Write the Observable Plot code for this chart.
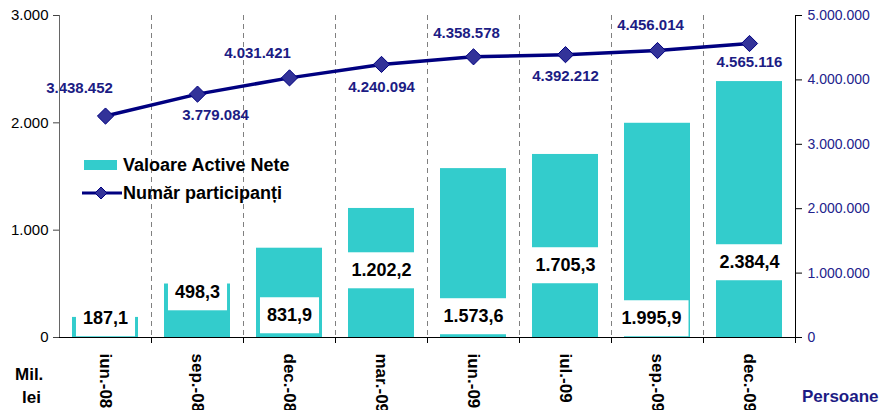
<!DOCTYPE html>
<html>
<head>
<meta charset="utf-8">
<script src="https://cdn.jsdelivr.net/npm/d3@7"></script>
<script src="https://cdn.jsdelivr.net/npm/@observablehq/plot@0.6"></script>
<style>
  html, body { margin: 0; padding: 0; background: #fff; }
  #wrap { position: relative; width: 881px; height: 410px; font-family: "Liberation Sans", Arial, sans-serif; }
  .ov { position: absolute; font-weight: bold; white-space: nowrap; line-height: 20px; }
</style>
</head>
<body>
<div id="wrap"></div>
<script>
// ---- data ----
const categories = ["iun.-08", "sep.-08", "dec.-08", "mar.-09", "iun.-09", "iul.-09", "sep.-09", "dec.-09"];
const netAssets = [187.1, 498.3, 831.9, 1202.2, 1573.6, 1705.3, 1995.9, 2384.4]; // Mil. lei
const participants = [3438452, 3779084, 4031421, 4240094, 4358578, 4392212, 4456014, 4565116]; // Persoane
const leftTicks = [0, 1000, 2000, 3000];
const rightTicks = [0, 1000000, 2000000, 3000000, 4000000, 5000000];
const seriesNames = ["Valoare Active Nete", "Număr participanți"];

// ---- layout (label placement) ----
const barLabelAt = [177, 419, 205, 624, 196, 671, 177, 699];
const barLabelDx = [0, 0, 0, 0, 0, 0, -6, 0];
const lineLabelDx = [-26, 18, -32, 0, -7, 0, -7, 0];
const lineLabelDy = [-28, 21, -25, 23, -24, 22, -25, 19];

const W = 881, H = 410, mL = 59, mR = 86, mT = 15, mB = 73;
const bw = (W - mL - mR) / categories.length;
const k = 3000 / 5000000;
const yPerPx = 3000 / (H - mT - mB);

const ro = d3.formatLocale({decimal: ",", thousands: ".", grouping: [3], currency: ["", ""]});
const fmtInt = ro.format(",d");
const fmt1 = ro.format(",.1f");

const rows = categories.map((c, i) => ({cat: c, nav: netAssets[i], part: participants[i], i}));

const NAVY = "#000080";
const LBL = "#1c1c84";
const TEAL = "#33CCCC";

const chart = Plot.plot({
  width: W, height: H,
  marginLeft: mL, marginRight: mR, marginTop: mT, marginBottom: mB,
  style: {fontFamily: "'Liberation Sans', Arial, sans-serif", background: "white", overflow: "visible"},
  x: {domain: categories, padding: 0},
  y: {domain: [0, 3000]},
  marks: [
    Plot.ruleX(categories.slice(0, -1), {x: d => d, dx: bw / 2, stroke: "#808080", strokeDasharray: "5,4"}),
    Plot.barY(rows, {x: "cat", y: "nav", fill: TEAL, insetLeft: 13, insetRight: 13}),
    ...rows.map((d, i) => Plot.text([d], {
      x: "cat", y: () => barLabelAt[i], text: r => fmt1(r.nav), dx: barLabelDx[i],
      fontSize: 18, fontWeight: "bold", fill: "black"
    })),
    Plot.line(rows, {x: "cat", y: d => d.part * k, stroke: NAVY, strokeWidth: 3.5}),
    Plot.dot(rows, {x: "cat", y: d => d.part * k, symbol: "diamond2", r: 7.3, fill: "#333399", stroke: NAVY, strokeWidth: 1}),
    ...rows.map((d, i) => Plot.text([d], {
      x: "cat", y: r => r.part * k, text: r => fmtInt(r.part), dx: lineLabelDx[i], dy: lineLabelDy[i],
      fontSize: 15, fontWeight: "bold", fill: LBL
    })),
    Plot.ruleX(categories, {x: d => d, dx: bw / 2, y1: 0, y2: -6 * yPerPx, stroke: "black"}),
    Plot.ruleY([0], {stroke: "black"}),
    Plot.ruleX([categories[0]], {x: d => d, dx: -bw / 2, stroke: "#666"}),
    Plot.ruleX([categories[categories.length - 1]], {x: d => d, dx: bw / 2, stroke: "black"}),
    Plot.axisY({ticks: leftTicks, tickFormat: fmtInt, tickSize: 6, tickPadding: 5, fontSize: 15, label: null, stroke: "#444", fill: "black"}),
    Plot.axisY({anchor: "right", ticks: rightTicks.map(v => v * k), tickFormat: d => fmtInt(Math.round(d / k)), tickSize: 6, tickPadding: 6, fontSize: 14, label: null, stroke: "black", fill: "#22228c"}),
    Plot.axisX({tickSize: 0, tickPadding: 16, tickRotate: 90, fontSize: 17, fontWeight: "bold", label: null, fill: "black"})
  ]
});

const wrap = document.getElementById("wrap");
wrap.appendChild(chart);

// white boxes behind bar labels
const barTexts = new Set(netAssets.map(fmt1));
chart.querySelectorAll("text").forEach(t => {
  if (!barTexts.has(t.textContent.trim())) return;
  if (t.closest("g") && t.closest("g").getAttribute("aria-label") && t.closest("g").getAttribute("aria-label").includes("axis")) return;
  const b = t.getBBox();
  const r = document.createElementNS("http://www.w3.org/2000/svg", "rect");
  r.setAttribute("x", b.x - 7);
  r.setAttribute("y", b.y + b.height / 2 - 18);
  r.setAttribute("width", b.width + 14);
  r.setAttribute("height", 36);
  r.setAttribute("fill", "white");
  r.setAttribute("stroke", "none");
  if (t.getAttribute("transform")) r.setAttribute("transform", t.getAttribute("transform"));
  t.parentNode.insertBefore(r, t);
});

// legend (inside plot area) and axis titles
function ov(html, style) {
  const d = document.createElement("div");
  d.className = "ov";
  d.innerHTML = html;
  Object.assign(d.style, style);
  wrap.appendChild(d);
  return d;
}
ov(`<div style="width:33px;height:10px;background:${TEAL}"></div>`, {left: "84px", top: "160px"});
ov(seriesNames[0], {left: "123px", top: "155px", fontSize: "18px", color: "black"});
ov(`<svg width="40" height="16"><line x1="0" x2="40" y1="8" y2="8" stroke="${NAVY}" stroke-width="3"/><path d="M19,2L25,8L19,14L13,8Z" fill="#333399" stroke="${NAVY}" stroke-width="1"/></svg>`, {left: "82px", top: "185px", lineHeight: "0"});
ov(seriesNames[1], {left: "123px", top: "183px", fontSize: "18px", color: "black"});
ov("Mil.", {left: "15px", top: "365px", fontSize: "17px", color: "black"});
ov("lei", {left: "22px", top: "388px", fontSize: "17px", color: "black"});
ov("Persoane", {left: "802px", top: "387px", fontSize: "17px", color: "#1c1c84"});
</script>
</body>
</html>
